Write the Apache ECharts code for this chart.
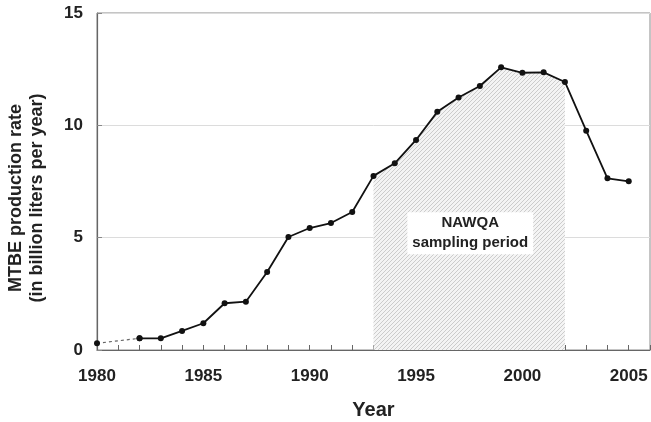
<!DOCTYPE html>
<html>
<head>
<meta charset="utf-8">
<script src="https://cdn.jsdelivr.net/npm/echarts@6/dist/echarts.min.js"></script>
<style>
  html, body { margin: 0; padding: 0; background: #fff; }
  #chart { width: 651px; height: 422px; }
</style>
</head>
<body>
<div id="chart"></div>
<script>
// MTBE production, billion liters per year (1981 not reported)
var years = [1980, 1982, 1983, 1984, 1985, 1986, 1987, 1988, 1989, 1990, 1991, 1992,
  1993, 1994, 1995, 1996, 1997, 1998, 1999, 2000, 2001, 2002, 2003, 2004, 2005];
var mtbe = [0.3, 0.52, 0.52, 0.85, 1.19, 2.08, 2.15, 3.47, 5.03, 5.43, 5.65, 6.14,
  7.75, 8.31, 9.35, 10.6, 11.24, 11.75, 12.58, 12.34, 12.36, 11.93, 9.76, 7.64, 7.51];
var samplingPeriod = [1993, 2002];
var yTicks = [0, 5, 10, 15];

var pts = years.map(function (y, i) { return [y, mtbe[i]]; });
var gapPart = pts.slice(0, 2);     // dashed 1980 -> 1982
var mainPart = pts.slice(1);
var hatchPart = pts.filter(function (p) {
  return p[0] >= samplingPeriod[0] && p[0] <= samplingPeriod[1];
});

// diagonal hatch pattern
var tile = document.createElement('canvas');
tile.width = 4;
tile.height = 4;
var c = tile.getContext('2d');
c.fillStyle = '#f4f4f4';
c.fillRect(0, 0, 4, 4);
c.strokeStyle = '#c2c2c2';
c.lineWidth = 0.8;
c.beginPath();
c.moveTo(-1, 5); c.lineTo(5, -1);
c.moveTo(-1, 1); c.lineTo(1, -1);
c.moveTo(3, 5); c.lineTo(5, 3);
c.stroke();

var chart = echarts.init(document.getElementById('chart'));

chart.setOption({
  animation: false,
  backgroundColor: '#fff',
  grid: {
    left: 97, right: 1, top: 13, bottom: 72,
    show: true, borderColor: '#8a8a8a', borderWidth: 1,
    outerBoundsMode: 'none'
  },
  xAxis: {
    type: 'value',
    min: 1980,
    max: 2006,
    interval: 1,
    name: 'Year',
    nameLocation: 'middle',
    nameGap: 50,
    nameTextStyle: { fontFamily: 'Liberation Sans', fontWeight: 'bold', fontSize: 20, color: '#222' },
    axisLine: { lineStyle: { color: '#666', width: 1.2 } },
    axisTick: { inside: true, length: 5, lineStyle: { color: '#666' } },
    axisLabel: {
      margin: 18,
      fontFamily: 'Liberation Sans', fontWeight: 'bold', fontSize: 17, color: '#222',
      formatter: function (v) { return (v % 5 === 0 && v <= 2005) ? String(v) : ''; }
    },
    splitLine: { show: false }
  },
  yAxis: {
    type: 'value',
    min: yTicks[0],
    max: yTicks[yTicks.length - 1],
    interval: 5,
    axisLine: { show: true, lineStyle: { color: '#666', width: 1.2 } },
    axisTick: { show: true, inside: true, length: 5, lineStyle: { color: '#888' } },
    axisLabel: {
      margin: 14,
      fontFamily: 'Liberation Sans', fontWeight: 'bold', fontSize: 17, color: '#222'
    },
    splitLine: { show: true, lineStyle: { color: '#dcdcdc' } }
  },
  graphic: [{
    type: 'text',
    x: 27,
    y: 198,
    rotation: Math.PI / 2,
    style: {
      text: 'MTBE production rate\n(in billion liters per year)',
      font: 'bold 18px "Liberation Sans"',
      fill: '#222',
      align: 'center',
      verticalAlign: 'middle',
      lineHeight: 21
    }
  }],
  series: [
    {
      type: 'line',
      data: hatchPart,
      symbol: 'none',
      lineStyle: { width: 0 },
      areaStyle: { color: { image: tile, repeat: 'repeat' }, opacity: 1 },
      z: 1,
      markPoint: {
        symbol: 'rect',
        symbolSize: 0,
        data: [{ coord: [1997.55, 5.2] }],
        label: {
          show: true,
          position: 'inside',
          formatter: 'NAWQA\nsampling period',
          fontFamily: 'Liberation Sans', fontWeight: 'bold', fontSize: 15,
          lineHeight: 20, color: '#222',
          backgroundColor: '#fff',
          padding: [1, 5, 1, 5],
          align: 'center'
        }
      }
    },
    {
      type: 'line',
      data: gapPart,
      symbol: 'circle',
      symbolSize: 6,
      itemStyle: { color: '#111' },
      lineStyle: { color: '#666', width: 1.2, type: [3, 3] },
      z: 3
    },
    {
      type: 'line',
      data: mainPart,
      symbol: 'circle',
      symbolSize: 6,
      itemStyle: { color: '#111' },
      lineStyle: { color: '#111', width: 1.8 },
      z: 4
    }
  ]
});
</script>
</body>
</html>
